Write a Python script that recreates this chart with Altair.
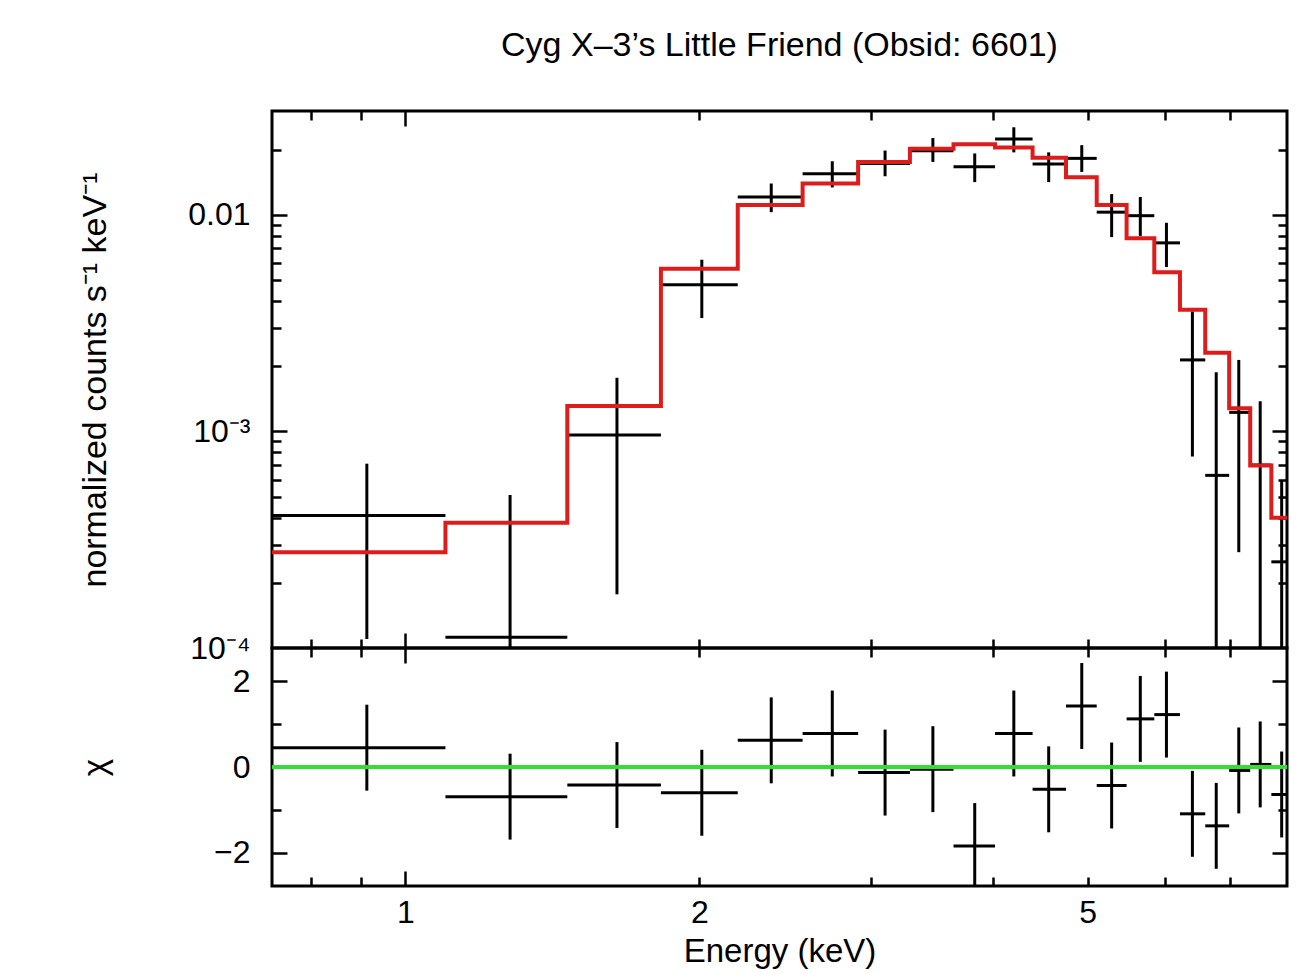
import altair as alt
import pandas as pd

# ---------------- data ----------------
E_LO = [0.73, 1.099, 1.465, 1.827, 2.19, 2.552, 2.909, 3.287, 3.643, 4.018,
        4.39, 4.75, 5.107, 5.48, 5.85, 6.215, 6.597, 6.98, 7.335, 7.71]
E_HI = [1.099, 1.465, 1.827, 2.19, 2.552, 2.909, 3.287, 3.643, 4.018, 4.39,
        4.75, 5.107, 5.48, 5.85, 6.215, 6.597, 6.98, 7.335, 7.71, 8.1]
E_MID = [0.913, 1.28, 1.647, 2.012, 2.37, 2.737, 3.10, 3.47, 3.83, 4.2,
         4.56, 4.93, 5.29, 5.66, 6.02, 6.40, 6.77, 7.14, 7.51, 7.90]
RATE = [4.09e-4, 1.12e-4, 9.62e-4, 4.76e-3, 0.0121, 0.01549, 0.0173, 0.0198, 0.0167, 0.0224,
        0.01718, 0.01825, 0.0103, 0.00992, 0.00743, 0.00214, 6.27e-4, 1.225e-3, 7.0e-4, 2.5e-4]
RATE_LO = [1.1e-4, 1e-5, 1.77e-4, 3.34e-3, 0.0103, 0.0134, 0.01509, 0.01757, 0.01418, 0.01945,
           0.01418, 0.0158, 0.0079, 0.0080, 0.00575, 7.66e-4, 1e-5, 2.77e-4, 1e-5, 1e-5]
RATE_HI = [7.1e-4, 5.09e-4, 1.77e-3, 6.21e-3, 0.01397, 0.0177, 0.01983, 0.02265, 0.01923, 0.0254,
           0.01945, 0.0210, 0.01248, 0.0121, 0.0092, 0.00358, 0.001875, 0.00214, 0.00138, 5.9e-4]
MODEL = [2.77e-4, 3.79e-4, 1.31e-3, 5.65e-3, 0.0111, 0.01398, 0.01757, 0.02023, 0.0212, 0.0205,
         0.01836, 0.01492, 0.0111, 0.00781, 0.00544, 0.00365, 0.00231, 0.00128, 6.96e-4, 4.0e-4]
CHI = [0.45, -0.69, -0.42, -0.60, 0.62, 0.78, -0.13, -0.05, -1.84, 0.78,
       -0.52, 1.42, -0.43, 1.12, 1.22, -1.09, -1.37, -0.08, 0.06, -0.64]
CHI_ERR = [1.0, 1.0, 1.0, 1.0, 1.0, 1.0, 1.0, 1.0, 1.0, 1.0,
           1.0, 1.0, 1.0, 1.0, 1.0, 1.0, 1.0, 1.0, 1.0, 1.0]
ZERO = [0.0]

X_TICKS_MAJOR = [1]
X_TICKS_MINOR = [0.8, 0.9, 2, 3, 4, 5, 6, 7]
X_LABELS = [1, 2, 5]
YT_LABELS = [0.01, 0.001, 0.0001]
YT_MAJOR = [0.01, 0.001]
YT_MINOR = [2e-4, 3e-4, 4e-4, 5e-4, 6e-4, 7e-4, 8e-4, 9e-4,
            2e-3, 3e-3, 4e-3, 5e-3, 6e-3, 7e-3, 8e-3, 9e-3, 0.02]
YB_LABELS = [2, 0, -2]
YB_MAJOR = [2, 0, -2]
YB_MINOR = [1, -1]

TITLE = "Cyg X\u20133\u2019s Little Friend (Obsid: 6601)"

# ---------------- tables ----------------
pts = pd.DataFrame({
    "elo": E_LO, "ehi": E_HI, "emid": E_MID,
    "rate": RATE, "rlo": RATE_LO, "rhi": RATE_HI,
    "chi": CHI,
})
pts["clo"] = [c - e for c, e in zip(CHI, CHI_ERR)]
pts["chi_hi"] = [c + e for c, e in zip(CHI, CHI_ERR)]
model_df = pd.DataFrame({"edge": E_LO + [E_HI[-1]], "model": MODEL + [MODEL[-1]]})
zero_df = pd.DataFrame({"zero": ZERO})

FONT = "Liberation Sans"
W, HT, HB = 1015, 537, 238
X_SCALE = alt.Scale(type="log", domain=[0.73, 8.0], nice=False)
YT_SCALE = alt.Scale(type="log", domain=[1e-4, 0.0302], nice=False)
YB_SCALE = alt.Scale(domain=[-2.77, 2.77], nice=False)
BIG, SMALL = 15, 9
LW = 3
LABEL_FS = 32


def tick_axis(orient, values, size):
    return alt.Axis(orient=orient, values=values, tickSize=size, offset=-size,
                    labels=False, domain=False, grid=False, title=None,
                    tickColor="black", tickWidth=2.5)


# ---------------- top panel ----------------
top_xerr = alt.Chart(pts).mark_rule(color="black", strokeWidth=LW, clip=True).encode(
    x=alt.X("elo:Q", scale=X_SCALE, axis=tick_axis("bottom", X_TICKS_MAJOR, BIG)),
    x2="ehi:Q",
    y=alt.Y("rate:Q", scale=YT_SCALE, axis=alt.Axis(
        orient="left", values=YT_LABELS, ticks=False, domain=False, grid=False,
        labelExpr="datum.value > 0.005 ? '0.01' : (datum.value > 0.0005 ? '10\u207b\u00b3' : '10\u207b\u2074')",
        labelFontSize=LABEL_FS, labelPadding=22, labelFont=FONT, labelColor="black",
        title="normalized counts s\u207b\u00b9 keV\u207b\u00b9", titleFontSize=34, titleFont=FONT,
        titleFontWeight="normal", titleColor="black", titleX=-160, titleBaseline="bottom")),
)
top_yerr = alt.Chart(pts).mark_rule(color="black", strokeWidth=LW, clip=True).encode(
    x=alt.X("emid:Q", scale=X_SCALE, axis=tick_axis("bottom", X_TICKS_MINOR, SMALL)),
    y=alt.Y("rlo:Q", scale=YT_SCALE, axis=tick_axis("left", YT_MAJOR, BIG)),
    y2="rhi:Q",
)
top_model = alt.Chart(model_df).mark_line(color="#dd1c1c", strokeWidth=4, interpolate="step-after",
                                          clip=True).encode(
    x=alt.X("edge:Q", scale=X_SCALE, axis=tick_axis("top", X_TICKS_MAJOR, BIG)),
    y=alt.Y("model:Q", scale=YT_SCALE, axis=tick_axis("left", YT_MINOR, SMALL)),
)
top_d1 = alt.Chart(model_df).mark_line(opacity=0, clip=True).encode(
    x=alt.X("edge:Q", scale=X_SCALE, axis=tick_axis("top", X_TICKS_MINOR, SMALL)),
    y=alt.Y("model:Q", scale=YT_SCALE, axis=tick_axis("right", YT_MAJOR, BIG)),
)
top_d2 = alt.Chart(model_df).mark_line(opacity=0, clip=True).encode(
    x=alt.X("edge:Q", scale=X_SCALE, axis=None),
    y=alt.Y("model:Q", scale=YT_SCALE, axis=tick_axis("right", YT_MINOR, SMALL)),
)
top = alt.layer(top_xerr, top_yerr, top_model, top_d1, top_d2).resolve_axis(
    x="independent", y="independent"
).properties(
    width=W, height=HT,
    title=alt.TitleParams(TITLE, fontSize=34, font=FONT, fontWeight="normal", color="black",
                          anchor="middle", frame="group", offset=47),
)

# ---------------- bottom panel ----------------
bot_xerr = alt.Chart(pts).mark_rule(color="black", strokeWidth=LW, clip=True).encode(
    x=alt.X("elo:Q", scale=X_SCALE, axis=alt.Axis(
        orient="bottom", values=X_LABELS, ticks=False, domain=False, grid=False,
        labelExpr="format(datum.value, '~g')", labelFontSize=LABEL_FS, labelFont=FONT,
        labelColor="black", labelPadding=11,
        title="Energy (keV)", titleFontSize=33, titleFont=FONT, titleFontWeight="normal",
        titleColor="black", titlePadding=7)),
    x2="ehi:Q",
    y=alt.Y("chi:Q", scale=YB_SCALE, axis=alt.Axis(
        orient="left", values=YB_LABELS, ticks=False, domain=False, grid=False,
        labelExpr="datum.value < 0 ? '\u2212' + abs(datum.value) : '' + datum.value",
        labelFontSize=LABEL_FS, labelPadding=22, labelFont=FONT, labelColor="black",
        title="\u03c7", titleFontSize=33, titleFont=FONT, titleFontWeight="normal",
        titleColor="black", titleX=-160, titleBaseline="bottom")),
)
bot_yerr = alt.Chart(pts).mark_rule(color="black", strokeWidth=LW, clip=True).encode(
    x=alt.X("emid:Q", scale=X_SCALE, axis=tick_axis("bottom", X_TICKS_MAJOR, BIG)),
    y=alt.Y("clo:Q", scale=YB_SCALE, axis=tick_axis("left", YB_MAJOR, BIG)),
    y2="chi_hi:Q",
)
bot_zero = alt.Chart(zero_df).mark_rule(color="#35dc35", strokeWidth=4).encode(
    y=alt.Y("zero:Q", scale=YB_SCALE, axis=tick_axis("left", YB_MINOR, SMALL)),
)
bot_d1 = alt.Chart(pts).mark_rule(opacity=0, clip=True).encode(
    x=alt.X("emid:Q", scale=X_SCALE, axis=tick_axis("bottom", X_TICKS_MINOR, SMALL)),
    y=alt.Y("chi:Q", scale=YB_SCALE, axis=tick_axis("right", YB_MAJOR, BIG)),
)
bot_d2 = alt.Chart(pts).mark_rule(opacity=0, clip=True).encode(
    x=alt.X("emid:Q", scale=X_SCALE, axis=tick_axis("top", X_TICKS_MAJOR, BIG)),
    y=alt.Y("chi:Q", scale=YB_SCALE, axis=tick_axis("right", YB_MINOR, SMALL)),
)
bot_d3 = alt.Chart(pts).mark_rule(opacity=0, clip=True).encode(
    x=alt.X("emid:Q", scale=X_SCALE, axis=tick_axis("top", X_TICKS_MINOR, SMALL)),
    y=alt.Y("chi:Q", scale=YB_SCALE, axis=None),
)
bottom = alt.layer(bot_xerr, bot_yerr, bot_zero, bot_d1, bot_d2, bot_d3).resolve_axis(
    x="independent", y="independent"
).properties(width=W, height=HB)

chart = alt.vconcat(top, bottom, spacing=0, bounds="flush").properties(
    padding={"left": 68, "top": 19, "right": 0, "bottom": 0},
    background="white",
).configure_view(stroke="black", strokeWidth=3)

chart.save("out.html", embed_options={"renderer": "svg", "actions": False})
